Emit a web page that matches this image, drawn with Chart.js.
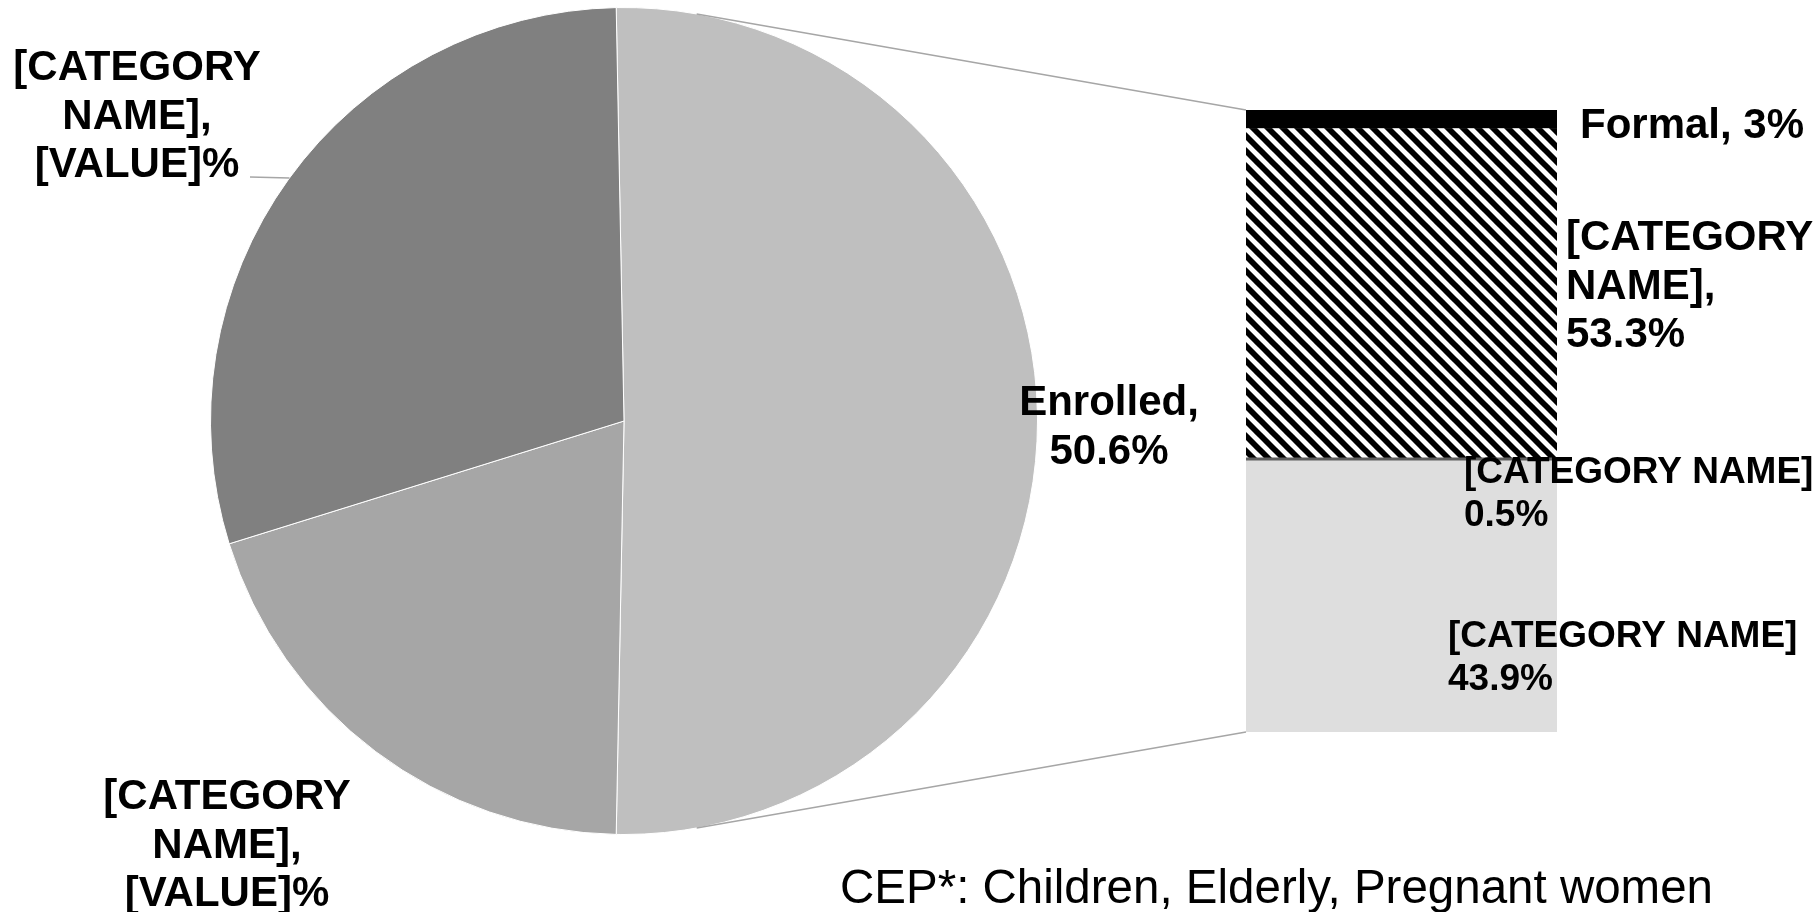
<!DOCTYPE html>
<html><head><meta charset="utf-8">
<script src="https://cdn.jsdelivr.net/npm/chart.js@4.4.1/dist/chart.umd.min.js"></script>
<style>
html,body{margin:0;padding:0;background:#fff;}
#wrap{position:relative;width:1818px;height:912px;overflow:hidden;background:#fff;}
#wrap canvas{position:absolute;left:0;top:0;}
</style></head><body>
<div id="wrap"><canvas id="pie" width="1818" height="912"></canvas><canvas id="bar" width="1818" height="912"></canvas></div>
<script>
// ---- data ----
const pieCategories = ['Enrolled', '[CATEGORY NAME]', '[CATEGORY NAME]'];
const pieValues = [50.6, 19.9, 29.5];
const pieValueText = ['50.6%', '[VALUE]%', '[VALUE]%'];
const barCategories = ['[CATEGORY NAME]', '[CATEGORY NAME]', '[CATEGORY NAME]', 'Formal'];
const barValues = [43.9, 0.5, 53.3, 3];
const footnote = 'CEP*: Children, Elderly, Pregnant women';

// ---- styles ----
const pieColors = ['#bfbfbf', '#a6a6a6', '#808080'];
const FONT = '"Liberation Sans", Arial, Helvetica, sans-serif';

function makeHatch(ctx) {
  const s = 15;
  const c = document.createElement('canvas');
  c.width = s; c.height = s;
  const g = c.getContext('2d');
  g.fillStyle = '#ffffff'; g.fillRect(0, 0, s, s);
  g.strokeStyle = '#000000'; g.lineWidth = 5.8;
  for (const k of [-s, 0, s]) {
    g.beginPath(); g.moveTo(k - 3, -3); g.lineTo(k + s + 3, s + 3); g.stroke();
  }
  return ctx.createPattern(c, 'repeat');
}
const barCtx = document.getElementById('bar').getContext('2d');
const barColors = ['#dedede', '#5f5f5f', makeHatch(barCtx), '#000000'];

const pieTotal = pieValues.reduce((a, b) => a + b, 0);
const barTotal = barValues.reduce((a, b) => a + b, 0);
// split slice centred on 3 o'clock (bar-of-pie)
const pieRotation = 90 - (pieValues[0] / pieTotal * 360) / 2;

const pieChart = new Chart(document.getElementById('pie'), {
  type: 'pie',
  data: { labels: pieCategories, datasets: [{ data: pieValues, backgroundColor: pieColors, borderColor: '#ffffff', borderWidth: 1 }] },
  options: {
    responsive: false, animation: false, rotation: pieRotation,
    layout: { padding: { left: 210, right: 780, top: 7, bottom: 77 } },
    plugins: { legend: { display: false }, tooltip: { enabled: false } }
  }
});

// text layout
const labelLayout = [
  { lines: [pieCategories[0] + ',', pieValueText[0]], x: 1109, y: 415, lh: 49, align: 'center', size: 42 },
  { lines: ['[CATEGORY', 'NAME],', pieValueText[2]], x: 137, y: 80, lh: 48.5, align: 'center', size: 42 },
  { lines: ['[CATEGORY', 'NAME],', pieValueText[1]], x: 227, y: 809, lh: 48.5, align: 'center', size: 42 },
  { lines: [barCategories[3] + ', ' + barValues[3] + '%'], x: 1580, y: 138, lh: 48.5, align: 'left', size: 42 },
  { lines: ['[CATEGORY', 'NAME],', barValues[2] + '%'], x: 1566, y: 250, lh: 48.5, align: 'left', size: 42 },
  { lines: [barCategories[1], barValues[1] + '%'], x: 1464, y: 483, lh: 43, align: 'left', size: 37 },
  { lines: [barCategories[0], barValues[0] + '%'], x: 1448, y: 647, lh: 43, align: 'left', size: 37 }
];
const connectorInsetDeg = 11.2;
const leaderStart = { x: 250, y: 177, yEnd: 178 };

const overlay = {
  id: 'overlay',
  afterDraw(chart) {
    const ctx = chart.ctx;
    const arc = pieChart.getDatasetMeta(0).data[0];
    const cx = arc.x, cy = arc.y, r = arc.outerRadius;
    const topEl = chart.getDatasetMeta(barValues.length - 1).data[0];
    const botEl = chart.getDatasetMeta(0).data[0];
    const left = topEl.x - topEl.width / 2;
    const ins = connectorInsetDeg * Math.PI / 180;
    const a1 = arc.startAngle + ins, a2 = arc.endAngle - ins;
    ctx.save();
    ctx.strokeStyle = '#a6a6a6'; ctx.lineWidth = 1.5;
    ctx.beginPath();
    ctx.moveTo(cx + r * Math.cos(a1), cy + r * Math.sin(a1));
    ctx.lineTo(left, topEl.y);
    ctx.moveTo(cx + r * Math.cos(a2), cy + r * Math.sin(a2));
    ctx.lineTo(left, botEl.base);
    // leader line for upper-left label
    const dy = leaderStart.yEnd - cy;
    ctx.moveTo(leaderStart.x, leaderStart.y);
    ctx.lineTo(cx - Math.sqrt(r * r - dy * dy), leaderStart.yEnd);
    ctx.stroke();

    ctx.fillStyle = '#000000';
    ctx.textBaseline = 'alphabetic';
    for (const L of labelLayout) {
      ctx.font = 'bold ' + L.size + 'px ' + FONT;
      ctx.textAlign = L.align;
      L.lines.forEach((t, i) => ctx.fillText(t, L.x, L.y + i * L.lh));
    }
    ctx.font = '47.5px ' + FONT;
    ctx.textAlign = 'left';
    ctx.fillText(footnote, 840, 903);
    ctx.restore();
  }
};

const barChart = new Chart(barCtx, {
  type: 'bar',
  data: {
    labels: ['Enrolled'],
    datasets: barValues.map((v, i) => ({
      label: barCategories[i], data: [v], backgroundColor: barColors[i],
      borderWidth: 0, barPercentage: 1, categoryPercentage: 1
    }))
  },
  options: {
    responsive: false, animation: false,
    layout: { padding: { left: 1246, right: 261, top: 110, bottom: 180 } },
    scales: {
      x: { display: false, stacked: true },
      y: { display: false, stacked: true, min: 0, max: barTotal }
    },
    plugins: { legend: { display: false }, tooltip: { enabled: false } }
  },
  plugins: [overlay]
});
</script>
</body></html>
